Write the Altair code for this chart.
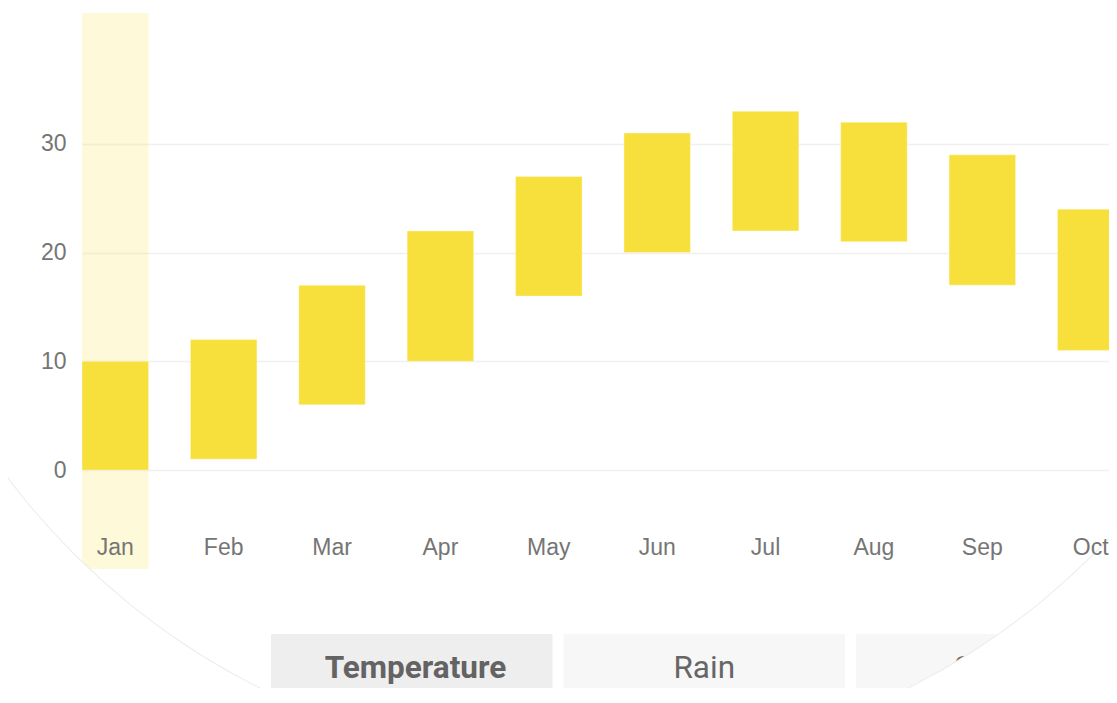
import altair as alt
import pandas as pd

# ---- data ----
months = ["Jan", "Feb", "Mar", "Apr", "May", "Jun", "Jul", "Aug", "Sep", "Oct"]
low = [0, 1, 6, 10, 16, 20, 22, 21, 17, 11]
high = [10, 12, 17, 22, 27, 31, 33, 32, 29, 24]
highlight_month = ["Jan"]
y_ticks = [0, 10, 20, 30]
tabs = ["Temperature", "Rain", "Snow"]
tab_state = ["active", "idle", "idle"]

BAR = "#F8E03C"
LABEL = "#757575"

temp = pd.DataFrame({"month": months, "low": low, "high": high})
hl = pd.DataFrame({"month": highlight_month})
tab_df = pd.DataFrame({"tab": tabs, "state": tab_state})
one = pd.DataFrame({"k": [0]})

xscale = alt.Scale(domain=months, range=[0, 1042], paddingInner=0.386, paddingOuter=0)
yscale = alt.Scale(domain=[-9.1, 42.04], nice=False, zero=False)

x_axis = alt.Axis(title=None, labelFontSize=23, labelColor=LABEL, labelFont="Liberation Sans",
                  labelPadding=-22, labelBaseline="middle", labelAngle=0,
                  ticks=False, domain=False, grid=False)
y_axis = alt.Axis(title=None, values=y_ticks, labelFontSize=23, labelColor=LABEL,
                  labelFont="Liberation Sans", labelPadding=16, ticks=False, domain=False,
                  grid=True, gridColor="#f0f0f0", gridWidth=1.5)

band = alt.Chart(hl).mark_rect(color=BAR, opacity=0.2).encode(
    x=alt.X("month:N", sort=months, scale=xscale, axis=x_axis)
)
bars = alt.Chart(temp).mark_bar(color=BAR, stroke="white", strokeOpacity=0.35, strokeWidth=1).encode(
    x=alt.X("month:N", sort=months, scale=xscale, axis=x_axis),
    y=alt.Y("low:Q", scale=yscale, axis=y_axis),
    y2="high:Q",
)
main = alt.layer(band, bars)

def tabx():
    return alt.X("tab:N", sort=tabs,
                 scale=alt.Scale(domain=tabs, range=[189, 1055.5], paddingInner=0.0376, paddingOuter=0),
                 axis=None)

btn = alt.Chart(tab_df).mark_rect().encode(
    x=tabx(), y=alt.value(621), y2=alt.value(720),
    color=alt.Color("state:N", scale=alt.Scale(domain=["active", "idle"], range=["#eeeeee", "#f7f7f7"]), legend=None),
)
txt_a = alt.Chart(tab_df).transform_filter("datum.state == 'active'").mark_text(
    font="Roboto", fontSize=31.5, fontWeight="bold", color="#636363", baseline="middle"
).encode(x=tabx(), y=alt.value(656), text="tab:N")
txt_i = alt.Chart(tab_df).transform_filter("datum.state == 'idle'").mark_text(
    font="Roboto", fontSize=31.5, color="#666666", baseline="middle"
).encode(x=tabx(), y=alt.value(656), text="tab:N")

mask = alt.Chart(one).mark_arc(innerRadius=722, outerRadius=2600, theta=0, theta2=6.2832, color="white").encode(
    x=alt.value(502), y=alt.value(30)
)
edge = alt.Chart(one).mark_arc(innerRadius=721.4, outerRadius=722.4, theta=0, theta2=6.2832, color="#ececec").encode(
    x=alt.value(502), y=alt.value(30)
)

chart = alt.layer(main, btn, txt_a, txt_i, mask, edge).resolve_scale(x="independent").properties(
    width=1027, height=556,
    padding={"left": 74, "top": 5, "right": 0, "bottom": 119},
    autosize=alt.AutoSizeParams(type="none"),
    background="white",
).configure_view(strokeWidth=0)

chart.save("out.html", embed_options={"renderer": "svg", "actions": False})
